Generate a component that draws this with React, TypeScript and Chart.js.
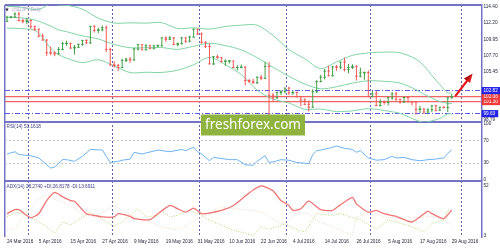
import React, { useEffect, useRef } from 'react';
import { Chart, registerables } from 'chart.js';

Chart.register(...registerables);

// ---------- categories (trading days) ----------
const monthDays: [string, number[]][] = [
  ['Mar', [24, 25, 28, 29, 30, 31]],
  ['Apr', [1, 4, 5, 6, 7, 8, 11, 12, 13, 14, 15, 18, 19, 20, 21, 22, 25, 26, 27, 28, 29]],
  ['May', [2, 3, 4, 5, 6, 9, 10, 11, 12, 13, 16, 17, 18, 19, 20, 23, 24, 25, 26, 27, 30, 31]],
  ['Jun', [1, 2, 3, 6, 7, 8, 9, 10, 13, 14, 15, 16, 17, 20, 21, 22, 23, 24, 27, 28, 29, 30]],
  ['Jul', [1, 4, 5, 6, 7, 8, 11, 12, 13, 14, 15, 18, 19, 20, 21, 22, 25, 26, 27, 28, 29]],
  ['Aug', [1, 2, 3, 4, 5, 8, 9, 10, 11, 12, 15, 16, 17, 18, 19, 22, 23, 24, 25, 26, 29, 30, 31]],
  ['Sep', [1, 2, 5, 6, 7]],
];
const categories: string[] = monthDays.flatMap(([m, days]) => days.map((d) => `${d} ${m} 2016`));
const separatorDates = ['1 Apr 2016', '2 May 2016', '1 Jun 2016', '1 Jul 2016', '1 Aug 2016', '1 Sep 2016'];
const labelEvery = 8;

// ---------- USDJPY daily OHLC ----------
const opens = [
  112.45, 113.0, 113.05, 113.45, 112.55, 112.4, 112.55, 111.7, 111.35, 110.4, 109.85, 108.1, 108.05, 107.95, 108.55, 109.35, 109.4, 108.75, 108.85, 109.25,
  109.8, 109.45, 111.75, 111.2, 111.25, 111.55, 108.55, 106.4, 106.35, 106.05, 107.0, 107.2, 107.1, 108.6, 109.2, 108.5, 109.05, 108.65, 109.05, 109.05,
  110.15, 109.95, 110.15, 109.25, 109.35, 110.15, 109.7, 110.25, 111.35, 110.7, 109.55, 108.95, 106.55, 107.55, 107.4, 106.9, 106.95, 106.95, 106.05, 106.05,
  106.1, 104.25, 104.1, 103.95, 104.7, 104.55, 106.2, 102.2, 101.85, 102.6, 102.75, 103.2, 102.55, 102.6, 102.0, 101.55, 100.95, 100.55, 102.7, 104.1,
  104.7, 105.55, 104.9, 106.15, 106.1, 106.8, 105.75, 106.05, 106.2, 104.85, 105.3, 105.35, 102.05, 102.4, 100.8, 101.25, 101.2, 101.85, 102.4, 101.65,
  101.25, 101.9, 101.3, 101.25, 100.25, 100.3, 99.9, 100.2, 100.75, 100.15, 100.55, 100.5, 101.85,
];
const highs = [
  113.2, 113.15, 113.7, 113.8, 112.8, 112.95, 112.7, 111.85, 111.4, 110.75, 109.95, 108.95, 108.3, 108.9, 109.6, 109.75, 109.45, 109.15, 109.35, 109.85,
  109.95, 111.8, 111.9, 111.55, 111.85, 111.85, 108.8, 106.9, 106.55, 107.25, 107.4, 107.5, 108.8, 109.35, 109.25, 109.3, 109.2, 109.2, 109.25, 110.2,
  110.35, 110.4, 110.25, 109.5, 110.25, 110.2, 110.45, 111.45, 111.4, 110.9, 109.7, 109.4, 107.65, 107.8, 107.45, 107.15, 107.1, 106.95, 106.35, 106.45,
  106.2, 104.45, 104.5, 104.8, 105.0, 106.85, 106.85, 102.55, 102.7, 102.9, 103.25, 103.4, 102.85, 102.7, 102.1, 101.8, 101.5, 103.05, 104.3, 105.05,
  105.85, 106.3, 106.2, 106.4, 106.85, 107.45, 106.55, 106.5, 106.35, 106.0, 105.5, 105.65, 102.8, 102.8, 101.65, 101.5, 102.05, 102.65, 102.65, 101.7,
  102.0, 102.05, 101.4, 101.35, 100.75, 100.4, 100.4, 100.8, 100.9, 100.6, 100.7, 101.95, 102.4,
];
const lows = [
  112.35, 112.85, 112.95, 112.4, 112.2, 112.05, 111.4, 111.1, 110.25, 109.8, 107.65, 107.75, 107.6, 107.8, 108.45, 109.05, 108.6, 107.85, 108.75, 109.05,
  109.3, 109.35, 110.9, 110.8, 111.05, 108.2, 106.3, 106.0, 105.55, 106.0, 106.8, 106.7, 107.0, 108.4, 108.45, 108.4, 108.6, 108.6, 108.85, 108.95,
  109.6, 109.9, 109.15, 108.95, 109.25, 109.45, 109.55, 110.2, 110.55, 109.35, 108.75, 106.5, 106.4, 107.25, 106.7, 106.3, 106.6, 105.95, 105.65, 105.95,
  103.55, 103.95, 103.8, 103.75, 104.3, 104.5, 99.0, 101.4, 101.7, 102.25, 102.45, 102.25, 102.25, 101.95, 100.7, 100.9, 99.95, 100.5, 102.5, 104.0,
  104.4, 104.85, 104.8, 105.6, 105.85, 105.5, 105.25, 105.85, 104.25, 104.7, 104.35, 101.95, 101.95, 100.7, 100.65, 100.9, 100.8, 101.6, 101.45, 101.05,
  101.15, 101.25, 100.8, 99.55, 99.75, 99.6, 99.65, 99.9, 99.95, 100.05, 100.4, 99.9, 101.8,
];
const closes = [
  113.0, 113.05, 113.45, 112.55, 112.4, 112.55, 111.7, 111.35, 110.4, 109.85, 108.1, 108.05, 107.95, 108.55, 109.35, 109.4, 108.75, 108.85, 109.25, 109.8,
  109.45, 111.75, 111.2, 111.25, 111.55, 108.55, 106.4, 106.35, 106.05, 107.0, 107.2, 107.1, 108.6, 109.2, 108.5, 109.05, 108.65, 109.05, 109.05, 110.15,
  109.95, 110.15, 109.25, 109.35, 110.15, 109.7, 110.25, 111.35, 110.7, 109.55, 108.95, 106.55, 107.55, 107.4, 106.9, 106.95, 106.95, 106.05, 106.05, 106.1,
  104.25, 104.1, 103.95, 104.7, 104.55, 106.2, 102.2, 101.85, 102.6, 102.75, 103.2, 102.55, 102.6, 102.0, 101.55, 100.95, 100.55, 102.7, 104.1, 104.7,
  105.55, 104.9, 106.15, 106.1, 106.8, 105.75, 106.05, 106.2, 104.85, 105.3, 105.35, 102.05, 102.4, 100.8, 101.25, 101.2, 101.85, 102.4, 101.65, 101.25,
  101.9, 101.3, 101.25, 100.25, 100.3, 99.9, 100.2, 100.75, 100.15, 100.55, 100.5, 101.85, 102.0,
];

// ---------- Bollinger bands, read at sample bars ----------
const bandIdx = [0, 3, 7, 9, 11, 13, 15, 19, 23, 27, 31, 35, 39, 43, 47, 51, 55, 59, 63, 67, 71, 75, 79, 83, 87, 91, 95, 99, 103, 105, 107, 109, 111, 112];
const bandUpper = [114.5, 114.45, 114.07, 114.29, 114.92, 114.7, 114.67, 114.12, 112.88, 112.2, 112.23, 112.19, 112.25, 111.44, 111.55, 111.37, 111.72, 111.91, 111.91, 110.48, 108.54, 107.26, 105.9, 106.83, 107.73, 108.07, 108.18, 108.09, 107.21, 106.27, 104.95, 103.68, 102.55, 102.53];
const bandMiddle = [113.0, 112.95, 112.63, 112.23, 111.79, 111.26, 111.01, 110.42, 110.0, 109.24, 108.79, 108.79, 108.81, 108.56, 108.99, 109.41, 109.08, 108.49, 107.41, 106.08, 104.84, 103.76, 103.1, 103.39, 103.89, 104.21, 104.14, 103.89, 102.99, 102.37, 101.81, 101.34, 101.09, 101.07];
const bandLower = [111.5, 111.45, 111.19, 110.17, 108.68, 107.82, 107.35, 106.72, 107.12, 106.28, 105.35, 105.39, 105.37, 105.68, 106.43, 107.45, 106.44, 105.07, 102.91, 101.68, 101.14, 100.26, 100.3, 99.95, 100.05, 100.35, 100.1, 99.69, 98.77, 98.47, 98.67, 99.0, 99.63, 99.61];

// ---------- RSI(14), read at sample bars ----------
const rsiIdx = [0, 2, 3, 6, 8, 10, 11, 12, 14, 15, 17, 19, 21, 24, 25, 26, 28, 29, 31, 32, 34, 38, 41, 44, 45, 47, 48, 49, 51, 52, 56, 58, 60, 62, 63, 65, 66, 67, 69, 71, 73, 76, 77, 78, 79, 81, 83, 85, 87, 88, 89, 91, 93, 95, 97, 98, 100, 102, 104, 106, 108, 110, 111, 112];
const rsiVals = [46, 50, 45, 43, 39, 27, 21, 23, 36, 36, 33, 42, 54, 53, 42, 31, 33, 35, 37, 49, 46, 53, 50, 54, 52, 58, 50, 46, 34, 40, 36, 36, 27, 26, 33, 43, 31, 32, 36, 35, 31, 29, 45, 52, 53, 56, 60, 56, 54, 49, 52, 39, 35, 36, 42, 39, 40, 36, 34, 36, 37, 39, 47, 53.16];

// ---------- ADX(14), +DI, -DI, read at sample bars ----------
const adxIdx = [0, 2, 3, 6, 8, 10, 12, 14, 16, 17, 20, 22, 24, 27, 28, 31, 32, 36, 38, 41, 43, 45, 47, 49, 51, 54, 57, 60, 62, 64, 65, 67, 69, 71, 72, 74, 76, 79, 82, 84, 87, 88, 91, 93, 95, 98, 102, 106, 107, 110, 112];
const adxVals = [24.8, 28.7, 28.7, 21, 24.8, 37.6, 45.6, 41.4, 37.6, 37, 24.8, 23.2, 21.6, 21.6, 24.8, 22.2, 20, 19, 24.8, 32.8, 29.6, 26.3, 30.2, 24.8, 25.4, 28, 32.8, 42, 48, 52, 51, 47.2, 37.6, 32.8, 28, 29.6, 37, 28.7, 28, 33.7, 40.8, 34.4, 26.3, 28, 24.8, 22.2, 16.7, 27.3, 24.8, 20, 28.27];
const pdiIdx = [0, 2, 4, 6, 8, 10, 12, 14, 16, 19, 21, 23, 25, 27, 29, 33, 35, 38, 39, 41, 43, 46, 49, 51, 54, 57, 62, 64, 66, 68, 70, 73, 75, 78, 82, 84, 87, 89, 92, 93, 96, 98, 102, 105, 107, 110, 111, 112];
const pdiVals = [21.6, 26.3, 24.8, 21, 16.7, 12, 5.6, 16.7, 13.6, 21.6, 26.3, 21.6, 16.7, 12.6, 16.7, 29.6, 21.6, 23.2, 28, 21.6, 23.2, 28, 23.2, 18.4, 13.6, 8.8, 3.5, 12, 9.4, 12, 15.2, 8.8, 7.1, 24.8, 23.2, 24.8, 21, 19, 12, 9.4, 18.4, 16.7, 12, 7.1, 15.2, 18.4, 28.7, 26.82];
const mdiIdx = [0, 2, 4, 8, 10, 12, 16, 19, 22, 25, 27, 29, 33, 36, 39, 43, 46, 49, 51, 54, 57, 62, 65, 68, 70, 73, 76, 78, 82, 85, 87, 88, 92, 95, 98, 102, 104, 107, 110, 112];
const mdiVals = [8.8, 10.4, 21.6, 39.2, 44, 39.2, 32.8, 24.8, 21.6, 28, 32.8, 28, 20, 16.7, 12, 8.8, 15.2, 21.6, 26.3, 31.2, 29.6, 28, 24.8, 16.7, 13.6, 26.3, 24.8, 18.4, 12, 7.1, 4, 21.6, 26.3, 21.6, 20, 21, 21, 22.2, 19, 13.69];

// ---------- axis ticks and levels ----------
const priceTicks = [98.79, 105.45, 107.7, 109.95, 112.2, 114.4];
const channelLevels = [102.82, 99.63];
const keyLevels = [102.06, 101.3];
const rsiTicks = [0, 30, 70, 100];
const rsiGuides = [30, 70];
const adxTicks = [3, 52];
const priceRange = [98.51, 114.7];
const rsiRange = [-1.7, 102.6];
const adxRange = [2.0, 56.8];

const arrowFrom = { bar: 113, price: 102.15 };
const arrowTo = { bar: 117.25, price: 105.2 };

const titleMain = 'USDJPY,Daily';
const titleRsi = 'RSI(14) 53.1618';
const titleAdx = 'ADX(14) 28.2740 +DI:26.8178 -DI:13.6911';
const watermark = 'freshforex.com';

// ---------- styles ----------
const FRAME = '#7474c4';
const SEP = '#6464aa';
const UP = '#3f9f43';
const DOWN = '#f25a56';
const BAND = '#80d4a6';
const RSI_C = '#6cb4f2';
const ADX_C = '#f07474';
const PDI_C = '#bcd67a';
const MDI_C = '#f1d6c2';
const TXT = '#24243c';
const FONT = '"Liberation Sans", Arial, sans-serif';
const FS = 4.7;

const near = (a: any, b: number) => typeof a === 'number' && Math.abs(a - b) < 1e-6;
const inList = (v: any, list: number[]) => list.some((x) => near(v, x));

function sparse(idx: number[], vals: number[]) {
  const arr: (number | null)[] = new Array(idx[idx.length - 1] + 1).fill(null);
  idx.forEach((i, k) => {
    arr[i] = vals[k];
  });
  return arr;
}

const overlayPlugin = {
  id: 'overlay',
  afterDraw(chart: any) {
    const { ctx, chartArea, scales } = chart;
    const xs = scales.x;
    const ys = scales.y;
    ctx.save();

    // arrow
    const x1 = xs.getPixelForValue(arrowFrom.bar);
    const y1 = ys.getPixelForValue(arrowFrom.price);
    const x2 = xs.getPixelForValue(arrowTo.bar);
    const y2 = ys.getPixelForValue(arrowTo.price);
    const dx = x2 - x1;
    const dy = y2 - y1;
    const L = Math.hypot(dx, dy);
    const ux = dx / L;
    const uy = dy / L;
    const px = -uy;
    const py = ux;
    const hx = x2 - ux * 9;
    const hy = y2 - uy * 9;
    ctx.strokeStyle = '#e21c1c';
    ctx.lineWidth = 2.2;
    ctx.lineCap = 'round';
    ctx.beginPath();
    ctx.moveTo(x1, y1);
    ctx.lineTo(hx, hy);
    ctx.stroke();
    ctx.beginPath();
    ctx.moveTo(x2, y2);
    ctx.lineTo(hx + px * 3.8, hy + py * 3.8);
    ctx.lineTo(hx - px * 3.8, hy - py * 3.8);
    ctx.closePath();
    ctx.fillStyle = '#e21c1c';
    ctx.fill();
    ctx.beginPath();
    ctx.moveTo(x2, y2);
    ctx.lineTo(hx, hy);
    ctx.lineTo(hx - px * 3.8, hy - py * 3.8);
    ctx.closePath();
    ctx.fillStyle = '#a81212';
    ctx.fill();

    // titles
    ctx.textBaseline = 'middle';
    ctx.textAlign = 'left';
    ctx.fillStyle = '#1a1a2a';
    ctx.font = `4px "DejaVu Sans"`;
    ctx.fillText('▼', chartArea.left + 0.5, ys.top + 4.8);
    ctx.font = `${FS}px ${FONT}`;
    ctx.fillStyle = '#a9a9c9';
    ctx.fillText(titleMain, chartArea.left + 6.5, ys.top + 4.8);
    ctx.fillStyle = '#3c3c86';
    ctx.fillText(titleRsi, chartArea.left + 1.5, scales.rsi.top + 5);
    ctx.fillText(titleAdx, chartArea.left + 1.5, scales.adx.top + 5.3);

    // watermark
    ctx.fillStyle = '#8fb33f';
    ctx.fillRect(201, 114.5, 104, 21);
    ctx.fillStyle = '#ffffff';
    ctx.textAlign = 'center';
    ctx.font = '13.5px "Noto Sans"';
    ctx.fillText(watermark, 253, 125.5);
    ctx.restore();
  },
};

function buildConfig() {
  const lastBar = closes.length - 1;
  const barColors = closes.map((c, i) => (c >= opens[i] ? UP : DOWN));
  const sepIdx = separatorDates.map((d) => categories.indexOf(d));
  const tickFont = { family: FONT, size: FS };

  const lineBase = { type: 'line', pointRadius: 0, spanGaps: true, borderWidth: 1 };

  return {
    type: 'bar',
    data: {
      labels: categories,
      datasets: [
        {
          type: 'line', label: 'Open', data: opens, yAxisID: 'y', showLine: false, pointStyle: 'line',
          pointRadius: 1.25, pointBorderWidth: 1, pointBorderColor: barColors, pointBackgroundColor: barColors, borderColor: 'transparent',
        },
        {
          type: 'line', label: 'Close', data: closes, yAxisID: 'y', showLine: false, pointStyle: 'line',
          pointRadius: 1.25, pointBorderWidth: 1, pointBorderColor: barColors, pointBackgroundColor: barColors, borderColor: 'transparent',
        },
        {
          type: 'bar', label: 'Range', data: lows.map((l, i) => [l, highs[i]]), yAxisID: 'y',
          backgroundColor: barColors, barThickness: 1, grouped: false, inflateAmount: 0,
        },
        { ...lineBase, label: 'BB upper', data: sparse(bandIdx, bandUpper), yAxisID: 'y', borderColor: BAND, tension: 0.3 },
        { ...lineBase, label: 'BB middle', data: sparse(bandIdx, bandMiddle), yAxisID: 'y', borderColor: BAND, tension: 0.3 },
        { ...lineBase, label: 'BB lower', data: sparse(bandIdx, bandLower), yAxisID: 'y', borderColor: BAND, tension: 0.3 },
        { ...lineBase, label: 'RSI', data: sparse(rsiIdx, rsiVals), yAxisID: 'rsi', borderColor: RSI_C, tension: 0 },
        { ...lineBase, label: 'ADX', data: sparse(adxIdx, adxVals), yAxisID: 'adx', borderColor: ADX_C, borderWidth: 1.3, tension: 0.2 },
        { ...lineBase, label: '+DI', data: sparse(pdiIdx, pdiVals), yAxisID: 'adx', borderColor: PDI_C, borderDash: [1, 1.5], tension: 0 },
        { ...lineBase, label: '-DI', data: sparse(mdiIdx, mdiVals), yAxisID: 'adx', borderColor: MDI_C, borderDash: [1, 1.5], tension: 0 },
      ],
    },
    options: {
      animation: false,
      responsive: false,
      devicePixelRatio: 1,
      events: [],
      layout: { padding: { top: 1, left: 1.5, right: 0, bottom: 0 } },
      plugins: { legend: { display: false }, tooltip: { enabled: false } },
      scales: {
        x: {
          type: 'category',
          position: 'bottom',
          offset: true,
          grid: {
            offset: true,
            drawTicks: false,
            color: (c: any) => (c.index === 0 ? FRAME : sepIdx.includes(c.index) ? SEP : 'rgba(0,0,0,0)'),
            lineWidth: (c: any) => (c.index === 0 ? 1.5 : 1),
          },
          border: { display: false, dash: (c: any) => (c.index === 0 ? [] : [2, 2]) },
          ticks: {
            autoSkip: false,
            maxRotation: 0,
            minRotation: 0,
            align: 'start',
            padding: 2,
            color: TXT,
            font: tickFont,
            callback: (_v: any, i: number) => (i % labelEvery === 0 && i <= lastBar ? categories[i] : ''),
          },
          afterFit: (s: any) => {
            s.height = 13;
          },
        },
        y: {
          type: 'linear',
          position: 'right',
          stack: 'panes',
          stackWeight: 119,
          weight: 1,
          min: priceRange[0],
          max: priceRange[1],
          afterBuildTicks: (s: any) => {
            s.ticks = [...priceTicks, ...channelLevels, ...keyLevels, priceRange[1]].sort((a, b) => a - b).map((v) => ({ value: v }));
          },
          ticks: {
            autoSkip: false,
            padding: 2,
            font: tickFont,
            color: (c: any) => (inList(c.tick?.value, channelLevels) || inList(c.tick?.value, keyLevels) ? '#ffffff' : TXT),
            showLabelBackdrop: (c: any) => inList(c.tick?.value, channelLevels) || inList(c.tick?.value, keyLevels),
            backdropColor: (c: any) => (inList(c.tick?.value, channelLevels) ? '#2424e8' : '#ee3a3a'),
            backdropPadding: { left: 2, right: 3, top: 1, bottom: 0.5 },
            callback: (v: any) => (near(v, priceRange[1]) ? '' : Number(v).toFixed(2)),
          },
          grid: {
            drawTicks: false,
            color: (c: any) => {
              const v = c.tick?.value;
              if (near(v, priceRange[1])) return FRAME;
              if (inList(v, channelLevels)) return '#5a5af2';
              if (inList(v, keyLevels)) return '#f26464';
              return 'rgba(0,0,0,0)';
            },
            lineWidth: (c: any) => {
              const v = c.tick?.value;
              if (near(v, priceRange[1])) return 2;
              if (inList(v, keyLevels)) return 1.3;
              return 1;
            },
          },
          border: {
            display: true,
            color: FRAME,
            width: 1.5,
            dash: (c: any) => (inList(c.tick?.value, channelLevels) ? [5, 2, 1, 2] : []),
          },
          afterFit: (s: any) => {
            s.width = 18.5;
          },
        },
        rsi: {
          type: 'linear',
          position: 'right',
          stack: 'panes',
          stackWeight: 60,
          weight: 2,
          min: rsiRange[0],
          max: rsiRange[1],
          afterBuildTicks: (s: any) => {
            s.ticks = [...rsiTicks, rsiRange[1]].map((v) => ({ value: v }));
          },
          ticks: {
            autoSkip: false,
            padding: 2,
            font: tickFont,
            color: TXT,
            callback: (v: any) => (near(v, rsiRange[1]) ? '' : String(v)),
          },
          grid: {
            drawTicks: false,
            color: (c: any) => {
              const v = c.tick?.value;
              if (near(v, rsiRange[1])) return FRAME;
              if (inList(v, rsiGuides)) return '#c6c6c6';
              return 'rgba(0,0,0,0)';
            },
            lineWidth: (c: any) => (near(c.tick?.value, rsiRange[1]) ? 2 : 1),
          },
          border: {
            display: true,
            color: FRAME,
            width: 1.5,
            dash: (c: any) => (inList(c.tick?.value, rsiGuides) ? [2, 2] : []),
          },
          afterFit: (s: any) => {
            s.width = 18.5;
          },
        },
        adx: {
          type: 'linear',
          position: 'right',
          stack: 'panes',
          stackWeight: 57,
          weight: 3,
          min: adxRange[0],
          max: adxRange[1],
          afterBuildTicks: (s: any) => {
            s.ticks = [...adxTicks, adxRange[1]].map((v) => ({ value: v }));
          },
          ticks: {
            autoSkip: false,
            padding: 2,
            font: tickFont,
            color: TXT,
            callback: (v: any) => (near(v, adxRange[1]) ? '' : String(v)),
          },
          grid: {
            drawTicks: false,
            color: (c: any) => (near(c.tick?.value, adxRange[1]) ? FRAME : 'rgba(0,0,0,0)'),
            lineWidth: (c: any) => (near(c.tick?.value, adxRange[1]) ? 2 : 1),
          },
          border: { display: true, color: FRAME, width: 1.5 },
          afterFit: (s: any) => {
            s.width = 18.5;
          },
        },
      },
    },
    plugins: [overlayPlugin],
  };
}

export default function App() {
  const ref = useRef<HTMLCanvasElement>(null);
  useEffect(() => {
    document.body.style.margin = '0';
    const chart = new Chart(ref.current as HTMLCanvasElement, buildConfig() as any);
    return () => chart.destroy();
  }, []);
  return (
    <div style={{ width: 500, height: 250, background: '#ffffff' }}>
      <canvas ref={ref} width={500} height={250} style={{ display: 'block' }} />
    </div>
  );
}
